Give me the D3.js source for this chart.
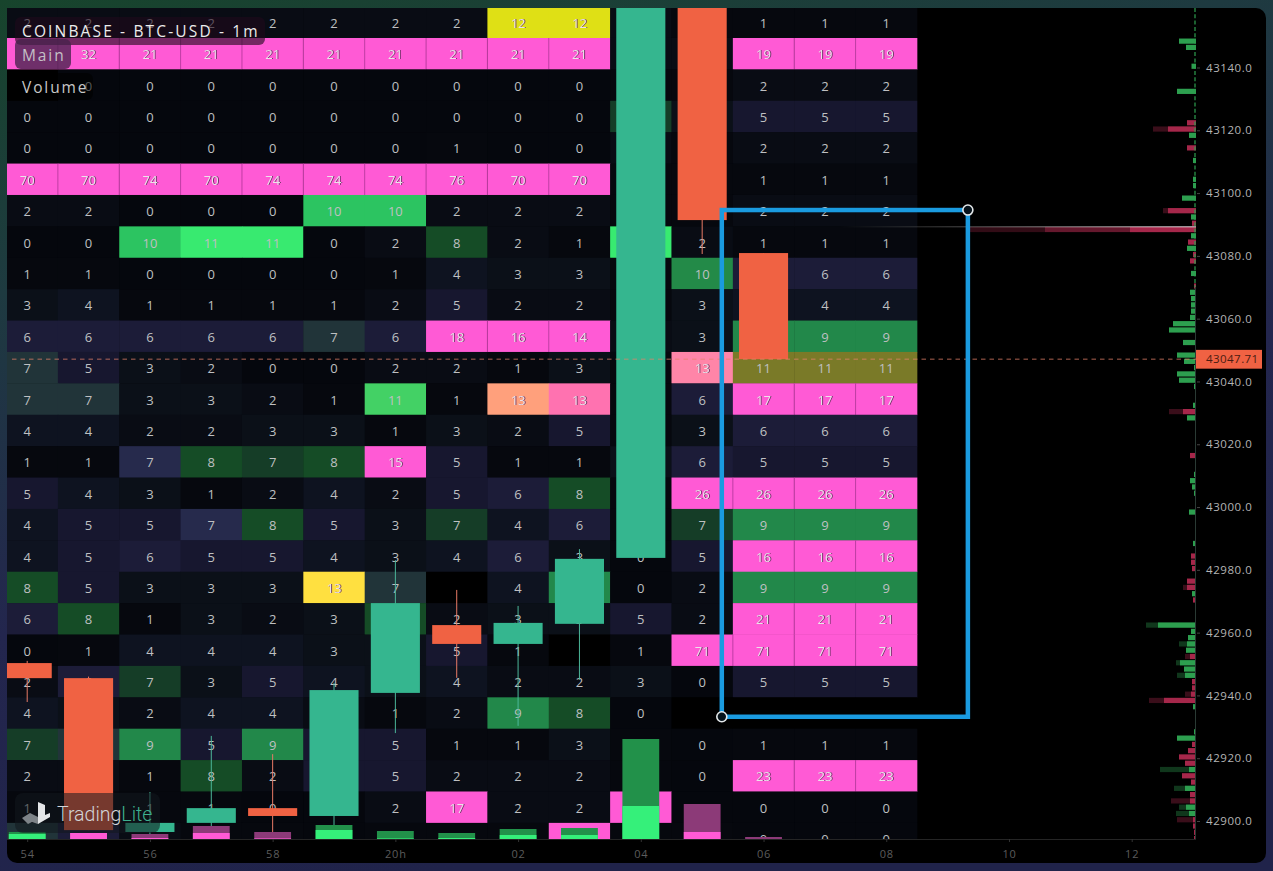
<!DOCTYPE html>
<html>
<head>
<meta charset="utf-8">
<title>COINBASE - BTC-USD - 1m</title>
<script src="https://cdn.jsdelivr.net/npm/d3@7"></script>
<style>
    html, body { margin: 0; padding: 0; background: #1c2a40; }
    svg { display: block; }
    text { font-family: "Open Sans", sans-serif; }
</style>
</head>
<body>
<div id="chart"></div>
<script>
const width = 1273,
    height = 871

// heatmap: one row per 10$ band, one value per minute (54 .. 08). null = no number shown
const cellValues = [
    [2, 2, 2, 2, 2, 2, 2, 2, 12, 12, 2, 1, 1, 1, 1],
    [null, 32, 21, 21, 21, 21, 21, 21, 21, 21, 2, 2, 19, 19, 19],
    [null, 0, 0, 0, 0, 0, 0, 0, 0, 0, 1, 1, 2, 2, 2],
    [0, 0, 0, 0, 0, 0, 0, 0, 0, 0, 7, 3, 5, 5, 5],
    [0, 0, 0, 0, 0, 0, 0, 1, 0, 0, 2, 1, 2, 2, 2],
    [70, 70, 74, 70, 74, 74, 74, 76, 70, 70, 1, 1, 1, 1, 1],
    [2, 2, 0, 0, 0, 10, 10, 2, 2, 2, 1, 1, 2, 2, 2],
    [0, 0, 10, 11, 11, 0, 2, 8, 2, 1, 11, 2, 1, 1, 1],
    [1, 1, 0, 0, 0, 0, 1, 4, 3, 3, 1, 10, 6, 6, 6],
    [3, 4, 1, 1, 1, 1, 2, 5, 2, 2, 1, 3, 4, 4, 4],
    [6, 6, 6, 6, 6, 7, 6, 18, 16, 14, 2, 3, 9, 9, 9],
    [7, 5, 3, 2, 0, 0, 2, 2, 1, 3, 1, 13, 11, 11, 11],
    [7, 7, 3, 3, 2, 1, 11, 1, 13, 13, 1, 6, 17, 17, 17],
    [4, 4, 2, 2, 3, 3, 1, 3, 2, 5, 1, 3, 6, 6, 6],
    [1, 1, 7, 8, 7, 8, 15, 5, 1, 1, 3, 6, 5, 5, 5],
    [5, 4, 3, 1, 2, 4, 2, 5, 6, 8, 1, 26, 26, 26, 26],
    [4, 5, 5, 7, 8, 5, 3, 7, 4, 6, 1, 7, 9, 9, 9],
    [4, 5, 6, 5, 5, 4, 3, 4, 6, 3, 0, 5, 16, 16, 16],
    [8, 5, 3, 3, 3, 13, 7, null, 4, 9, 0, 2, 9, 9, 9],
    [6, 8, 1, 3, 2, 3, 8, 2, 3, 3, 5, 2, 21, 21, 21],
    [0, 1, 4, 4, 4, 3, 3, 5, 1, null, 1, 71, 71, 71, 71],
    [2, 6, 7, 3, 5, 4, 3, 4, 2, 2, 3, 0, 5, 5, 5],
    [4, 3, 2, 4, 4, 2, 1, 2, 9, 8, 0, null, null, null, null],
    [7, 7, 9, 5, 9, 5, 5, 1, 1, 3, 1, 0, 1, 1, 1],
    [2, 2, 1, 8, 2, 5, 5, 2, 2, 2, 1, 0, 23, 23, 23],
    [1, 1, 1, 1, 0, 0, 2, 17, 2, 2, 17, 0, 0, 0, 0],
    [7, 6, 2, 1, 1, 0, 1, 1, 1, 15, 1, 1, 0, 0, 0]
]
// what kind of cell it is: n plain, g bid side, t mixed, p wall, rest are the odd ones
const cellKinds = [
    "nnnnnnnnyynnnnn",
    "ppppppppppnnppp",
    "nnnnnnnnnnnnnnn",
    "nnnnnnnnnngnnnn",
    "nnnnnnnnnnnnnnn",
    "ppppppppppnnnnn",
    "nnnnnggnnnnnnnn",
    "nngggnngnngnnnn",
    "nnnnnnnnnnndnnn",
    "nnnnnnnnnnnnnnn",
    "nnnnntnpppnnggg",
    "tnnnnnnnnnnlooo",
    "ttnnnnansrnnppp",
    "nnnnnnnnnnnnnnn",
    "nnngggpnnnnnnnn",
    "nnnnnnnnngnpppp",
    "nnnngnngnnngggg",
    "nnnnnnnnnnnnppp",
    "gnnnnYtnngnnggg",
    "ngnnnngnnnnnppp",
    "nnnnnnnnnnnpppp",
    "nngnnnnnnnnnnnn",
    "nnnnnnnnggnnnnn",
    "gtgngnnnnnnnnnn",
    "nnngnnnnnnnnppp",
    "nnnnnnnpnnpnnnn",
    "tnnnnnnnnpnnnnn"
]

// one candle per minute from 54, prices
const candleOpen = [42950.3, 42945.5, 42896.5, 42899.4, 42904.1, 42901.6, 42940.8, 42962.4, 42956.4, 42962.8, 42983.8, 43175, 43080.9]
const candleClose = [42945.5, 42897.1, 42899.4, 42904.1, 42901.6, 42941.7, 42969.4, 42956.4, 42963.1, 42983.5, 43175, 43091.4, 43047.1]
const candleHigh = [42951, 42946, 42909.2, 42927.1, 42921.3, 42944, 42983.1, 42973.6, 42968.5, 42986.6, 43175, 43175, 43080.9]
const candleLow = [42937.9, 42897.1, 42894, 42894, 42894, 42898.1, 42928, 42945.6, 42930.3, 42945, 42983.8, 43080.6, 43047.1]

// volume pane
const volumeTotal = [7, 6, 5, 13, 7, 14, 8, 6, 10, 11, 100, 35, 2]
const volumeInner = [5, 6, 1, 6, 0.6, 9, 0.6, 1, 4, 4, 33, 7, 0]
const volumeUp = [1, 0, 0, 0, 0, 1, 1, 1, 1, 1, 1, 0, 0]

// order book profile on the right
const bookBids = [
    [43148, 17, 17], [43146, 10, 10], [43140, 4.5, 4.5], [43132, 19, 19], [43118, 7, 7],
    [43110, 3, 3], [43104, 3, 3], [43102, 3, 3], [43098, 14, 14], [43092, 5, 5],
    [43086, 5, 5], [43082, 9, 9], [43074, 5, 5], [43068, 6, 6], [43066, 5, 5],
    [43064, 5, 5], [43062, 5, 5], [43060, 6, 6], [43058, 23, 23], [43056, 27, 27],
    [43052, 13, 13], [43048, 19, 19], [43046, 12, 12], [43044, 2, 2], [43042, 19, 19],
    [43040, 17, 17], [43038, 2, 2], [43032, 3, 3], [43028, 9, 9], [43010, 2, 2],
    [43008, 6, 6], [43006, 4, 4], [43004, 2, 2], [42998, 7, 7], [42988, 3, 3],
    [42972, 4, 4], [42962, 38, 50], [42960, 5, 5], [42958, 8, 8], [42956, 9, 17],
    [42954, 10, 10], [42950, 16, 20], [42948, 12, 12], [42946, 11, 19], [42936, 3, 3],
    [42928, 2, 2], [42926, 19, 19], [42916, 7, 36], [42910, 11, 22], [42904, 10, 17],
    [42902, 7, 20]
]
const bookAsks = [
    [43122, 9, 9], [43120, 28, 43], [43114, 9, 9], [43094, 28, 33], [43090, 4, 4],
    [43084, 8, 8], [43080, 3, 3], [43078, 6, 6], [43070, 2, 2], [43030, 13, 27],
    [43016, 6, 6], [42984, 5, 5], [42982, 5, 5], [42980, 4, 4], [42976, 9, 9],
    [42974, 9, 13], [42970, 3, 3], [42952, 6, 11], [42944, 4, 4], [42942, 4, 4],
    [42940, 5, 11], [42938, 32, 47], [42924, 4, 4], [42922, 8, 8], [42920, 17, 17],
    [42918, 11, 11], [42914, 14, 14], [42912, 5, 5], [42908, 6, 6], [42906, 6, 25],
    [42900, 3, 19], [42898, 3, 3], [42896, 2, 2], [42894, 2, 2]
]
// the big resting order at 43088
const wallPrice = 43088
const wallSizes = [226, 151, 66]

const priceTicks = [43140, 43120, 43100, 43080, 43060, 43040, 43020, 43000, 42980, 42960, 42940, 42920, 42900]
const timeTicks = [0, 2, 4, 6, 8, 10, 12, 14, 16, 18]
const timeLabels = ["54", "56", "58", "20h", "02", "04", "06", "08", "10", "12"]

const lastPrice = 43047.71
const lastLine = 43047.1
// drawn range box: minutes from 54 and prices
const boxTime = [11.32, 15.33]
const boxPrice = [43094.6, 42933.2]

const colors = {
    up: "#35b68f",
    down: "#f06243",
    upWick: "#4cb79a",
    downWick: "#e87a66",
    pink: "#ff5ad5",
    volUp: "#22914a",
    volUpInner: "#35f07a",
    volDown: "#8c3a78",
    bid: "#2d9f4f",
    ask: "#a5274a",
    box: "#1a9be0"
}

const x = d3.scaleLinear().domain([0, 18]).range([27.2, 1131.7])
const y = d3.scaleLinear().domain([42900, 43140]).range([821, 67.5])
const yVolume = d3.scaleLinear().domain([0, 100]).range([839, 739])
const xBook = d3.scaleLinear().domain([0, 226]).range([1196, 970])

const colWidth = x(1) - x(0)
const rowTop = i => y(43159.4 - i * 10)
const rowHeight = y(0) - y(10)

const neutral = d3.scaleLinear()
    .domain([0, 1, 2, 3, 4, 5, 6, 7, 8])
    .range(["#05070d", "#06080e", "#090c14", "#0b1018", "#0e1320", "#17172f", "#1c1c38", "#262a4c", "#262a4c"])
const green = d3.scaleLinear()
    .domain([7, 8, 9, 10, 11])
    .range(["#153d27", "#154c26", "#22884a", "#2cc461", "#38ea70"])

function cellFill(value, kind) {
    if (kind === "p") return colors.pink
    if (value === null) return "#000"
    if (kind === "g") return green(value)
    if (kind === "d") return "#238a48"
    if (kind === "t") return "#213439"
    if (kind === "y") return "#dfe015"
    if (kind === "Y") return "#ffe040"
    if (kind === "s") return "#ffa07c"
    if (kind === "r") return "#ff72b0"
    if (kind === "l") return "#ff85a8"
    if (kind === "o") return "#7a7a28"
    if (kind === "a") return "#43d165"
    return neutral(value)
}

const svg = d3.select("#chart")
    .append("svg")
        .attr("width", width)
        .attr("height", height)

const defs = svg.append("defs")
const bgGrad = defs.append("linearGradient")
    .attr("id", "bg")
    .attr("x1", 0).attr("y1", 0).attr("x2", 0.35).attr("y2", 1)
bgGrad.append("stop").attr("offset", "0%").attr("stop-color", "#17442c")
bgGrad.append("stop").attr("offset", "30%").attr("stop-color", "#1e3a40")
bgGrad.append("stop").attr("offset", "65%").attr("stop-color", "#23264e")
bgGrad.append("stop").attr("offset", "100%").attr("stop-color", "#20234a")

const lineGrad = defs.append("linearGradient")
    .attr("id", "wallLine")
    .attr("gradientUnits", "userSpaceOnUse")
    .attr("x1", 840).attr("x2", 1196).attr("y1", 0).attr("y2", 0)
lineGrad.append("stop").attr("offset", "0%").attr("stop-color", "#fff").attr("stop-opacity", 0)
lineGrad.append("stop").attr("offset", "100%").attr("stop-color", "#fff").attr("stop-opacity", 0.85)

defs.append("clipPath").attr("id", "plot")
    .append("rect")
        .attr("x", 7).attr("y", 8)
        .attr("width", 1189).attr("height", 831)

svg.append("rect").attr("width", width).attr("height", height).attr("fill", "url(#bg)")
svg.append("rect")
    .attr("x", 7).attr("y", 8)
    .attr("width", 1259).attr("height", 855)
    .attr("rx", 10)
    .attr("fill", "#000")

const plot = svg.append("g").attr("clip-path", "url(#plot)")

// heatmap
const cells = []
cellValues.forEach((row, r) => {
    row.forEach((value, c) => {
        cells.push({ r, c, value, kind: cellKinds[r][c] })
    })
})

plot.selectAll("rect.cell")
    .data(cells)
    .enter()
    .append("rect")
        .attr("class", "cell")
        .attr("x", d => x(d.c) - colWidth / 2)
        .attr("y", d => rowTop(d.r))
        .attr("width", colWidth + 0.4)
        .attr("height", rowHeight + 0.4)
        .attr("fill", d => cellFill(d.value, d.kind))

// thin seam between neighbouring wall cells
plot.selectAll("line.seam")
    .data(cells.filter(d => d.kind === "p" && d.c > 0 && cellKinds[d.r][d.c - 1] === "p"))
    .enter()
    .append("line")
        .attr("class", "seam")
        .attr("x1", d => x(d.c) - colWidth / 2)
        .attr("x2", d => x(d.c) - colWidth / 2)
        .attr("y1", d => rowTop(d.r))
        .attr("y2", d => rowTop(d.r) + rowHeight)
        .attr("stroke", "rgba(120,30,110,.6)")
        .attr("stroke-width", 0.8)

const brightKinds = "pyYsrl"
plot.selectAll("text.cell")
    .data(cells.filter(d => d.value !== null))
    .enter()
    .append("text")
        .attr("class", "cell")
        .attr("x", d => x(d.c))
        .attr("y", d => rowTop(d.r) + rowHeight / 2 + 0.5)
        .attr("text-anchor", "middle")
        .attr("dominant-baseline", "central")
        .attr("font-size", 13)
        .attr("fill", d => brightKinds.includes(d.kind) ? "#ece2ea" : "#bfc0c2")
        .style("filter", d => brightKinds.includes(d.kind) ? "drop-shadow(1px 0 0 rgba(95,45,90,.85))" : null)
        .text(d => d.value)

// candles
const candleW = colWidth * 0.8
const candles = candleOpen.map((open, i) => ({
    i,
    open,
    close: candleClose[i],
    high: candleHigh[i],
    low: candleLow[i],
    up: candleClose[i] >= open
}))

plot.selectAll("line.wick")
    .data(candles)
    .enter()
    .append("line")
        .attr("class", "wick")
        .attr("x1", d => x(d.i))
        .attr("x2", d => x(d.i))
        .attr("y1", d => y(d.high))
        .attr("y2", d => y(d.low))
        .attr("stroke", d => d.up ? colors.upWick : colors.downWick)
        .attr("stroke-width", 1)

plot.selectAll("rect.body")
    .data(candles)
    .enter()
    .append("rect")
        .attr("class", "body")
        .attr("x", d => x(d.i) - candleW / 2)
        .attr("y", d => y(Math.max(d.open, d.close)))
        .attr("width", candleW)
        .attr("height", d => Math.abs(y(d.open) - y(d.close)))
        .attr("fill", d => d.up ? colors.up : colors.down)

// volume
const volW = colWidth * 0.6
plot.selectAll("rect.vol")
    .data(volumeTotal)
    .enter()
    .append("rect")
        .attr("class", "vol")
        .attr("x", (d, i) => x(i) - volW / 2)
        .attr("y", d => yVolume(d))
        .attr("width", volW)
        .attr("height", d => yVolume(0) - yVolume(d))
        .attr("fill", (d, i) => volumeUp[i] ? colors.volUp : colors.volDown)

plot.selectAll("rect.volInner")
    .data(volumeInner)
    .enter()
    .append("rect")
        .attr("class", "volInner")
        .attr("x", (d, i) => x(i) - volW / 2)
        .attr("y", d => yVolume(d))
        .attr("width", volW)
        .attr("height", d => yVolume(0) - yVolume(d))
        .attr("fill", (d, i) => volumeUp[i] ? colors.volUpInner : colors.pink)

// order book
const bookBar = 5.2
function drawBook(rows, color) {
    const g = plot.append("g")
    g.selectAll("rect.tail")
        .data(rows.filter(d => d[2] > d[1]))
        .enter()
        .append("rect")
            .attr("class", "tail")
            .attr("x", d => xBook(d[2]))
            .attr("y", d => y(d[0] + 0.4) - bookBar / 2)
            .attr("width", d => xBook(0) - xBook(d[2]))
            .attr("height", bookBar)
            .attr("fill", color)
            .attr("opacity", 0.35)
    g.selectAll("rect.size")
        .data(rows)
        .enter()
        .append("rect")
            .attr("class", "size")
            .attr("x", d => xBook(d[1]))
            .attr("y", d => y(d[0] + 0.4) - bookBar / 2)
            .attr("width", d => xBook(0) - xBook(d[1]))
            .attr("height", bookBar)
            .attr("fill", color)
}
drawBook(bookBids, colors.bid)
drawBook(bookAsks, colors.ask)

plot.selectAll("rect.wall")
    .data(wallSizes)
    .enter()
    .append("rect")
        .attr("class", "wall")
        .attr("x", d => xBook(d))
        .attr("y", y(wallPrice + 0.4) - bookBar / 2)
        .attr("width", d => xBook(0) - xBook(d))
        .attr("height", bookBar)
        .attr("fill", colors.ask)
        .attr("opacity", (d, i) => [0.3, 0.45, 1][i])

plot.append("rect")
    .attr("x", 840).attr("width", 356)
    .attr("y", y(wallPrice + 0.4) - bookBar / 2 - 0.6)
    .attr("height", 1)
    .attr("fill", "url(#wallLine)")

// thin dashed stem of the profile
plot.append("line")
    .attr("x1", 1195).attr("x2", 1195)
    .attr("y1", 8).attr("y2", y(43070))
    .attr("stroke", "#2d9f4f")
    .attr("stroke-width", 1.2)
    .attr("stroke-dasharray", "4 2.3")
plot.append("line")
    .attr("x1", 1195.5).attr("x2", 1195.5)
    .attr("y1", y(43070)).attr("y2", 839)
    .attr("stroke", "#2a3a34")
    .attr("stroke-width", 1)

// last price line
svg.append("line")
    .attr("x1", 12).attr("x2", 1196)
    .attr("y1", y(lastLine)).attr("y2", y(lastLine))
    .attr("stroke", "#e8836a")
    .attr("stroke-opacity", 0.75)
    .attr("stroke-dasharray", "4.5 4")

// range box
const bx = boxTime.map(x),
    by = boxPrice.map(y)
svg.append("rect")
    .attr("x", bx[0]).attr("y", by[0])
    .attr("width", bx[1] - bx[0])
    .attr("height", by[1] - by[0])
    .attr("fill", "none")
    .attr("stroke", colors.box)
    .attr("stroke-width", 4.5)
svg.selectAll("circle.handle")
    .data([[bx[1], by[0]], [bx[0], by[1]]])
    .enter()
    .append("circle")
        .attr("class", "handle")
        .attr("cx", d => d[0])
        .attr("cy", d => d[1])
        .attr("r", 5)
        .attr("fill", "#06121a")
        .attr("stroke", "#e4e8ea")
        .attr("stroke-width", 1.6)

// axes
const priceAxis = svg.append("g")
    .attr("transform", "translate(1197,0)")
    .call(d3.axisRight(y)
        .tickValues(priceTicks)
        .tickFormat(d3.format(".1f"))
        .tickSize(3)
        .tickPadding(6))
priceAxis.select(".domain").remove()
priceAxis.selectAll("line").attr("stroke", "#444")
priceAxis.selectAll("text")
    .attr("fill", "#b4b4b4")
    .attr("font-size", 11.5)
    .attr("font-family", "'Open Sans', sans-serif")
    .attr("letter-spacing", 0.55)

const timeAxis = svg.append("g")
    .attr("transform", "translate(0,839)")
    .call(d3.axisBottom(x)
        .tickValues(timeTicks)
        .tickFormat((d, i) => timeLabels[i])
        .tickSize(3)
        .tickPadding(8))
timeAxis.select(".domain").attr("d", "M7,0.5H1196").attr("stroke", "#252525")
timeAxis.selectAll("line").attr("stroke", "#333")
timeAxis.selectAll("text")
    .attr("fill", "#5c5c5c")
    .attr("font-size", 11)
    .attr("font-family", "'Open Sans', sans-serif")
    .attr("letter-spacing", 0.8)

// last price tag
svg.append("rect")
    .attr("x", 1196).attr("y", y(lastLine) - 9.3)
    .attr("width", 66).attr("height", 18.8)
    .attr("fill", "#f06243")
svg.append("text")
    .attr("x", 1206).attr("y", y(lastLine) + 4.3)
    .attr("font-size", 11.5)
    .attr("letter-spacing", 0.45)
    .attr("fill", "#4a1c12")
    .text(d3.format(".2f")(lastPrice))

// header labels
function label(txt, bx0, by0, w, h, fill, color, base, size, spacing) {
    svg.append("rect")
        .attr("x", bx0).attr("y", by0)
        .attr("width", w).attr("height", h)
        .attr("rx", 6)
        .attr("fill", fill)
    svg.append("text")
        .attr("x", 22).attr("y", base)
        .attr("font-size", size)
        .attr("letter-spacing", spacing)
        .attr("fill", color)
        .text(txt)
}
label("COINBASE - BTC-USD - 1m", 15, 17, 250, 28, "rgba(30,10,28,.62)", "#ececec", 37, 15.5, 2.15)
label("Main", 15, 39, 56, 30, "rgba(70,35,75,.78)", "#c4c0c6", 61, 15.5, 1.9)
label("Volume", 15, 73, 78, 27, "rgba(0,0,0,.55)", "#c8c8c8", 93, 15.5, 1.9)

// logo
svg.append("rect")
    .attr("x", 15).attr("y", 793)
    .attr("width", 145).attr("height", 40)
    .attr("rx", 8)
    .attr("fill", "rgba(18,24,30,.55)")
const logo = svg.append("g")
logo.append("path").attr("d", "M38,802 L45,805 L45,815 L50,813 L50,817 L38,824 Z").attr("fill", "#e4e6e8")
logo.append("path").attr("d", "M22,818 L30,813 L38,817 L38,824 L32,822 L28,824 Z").attr("fill", "#7d8388")
svg.append("text")
    .attr("x", 57).attr("y", 821)
    .attr("font-weight", 300)
    .attr("font-size", 19.5)
    .attr("fill", "#d2d5d8")
    .style("font-family", "Roboto, sans-serif")
    .text("Trading")
    .append("tspan")
        .attr("fill", "#3fb08f")
        .text("Lite")
</script>
</body>
</html>
